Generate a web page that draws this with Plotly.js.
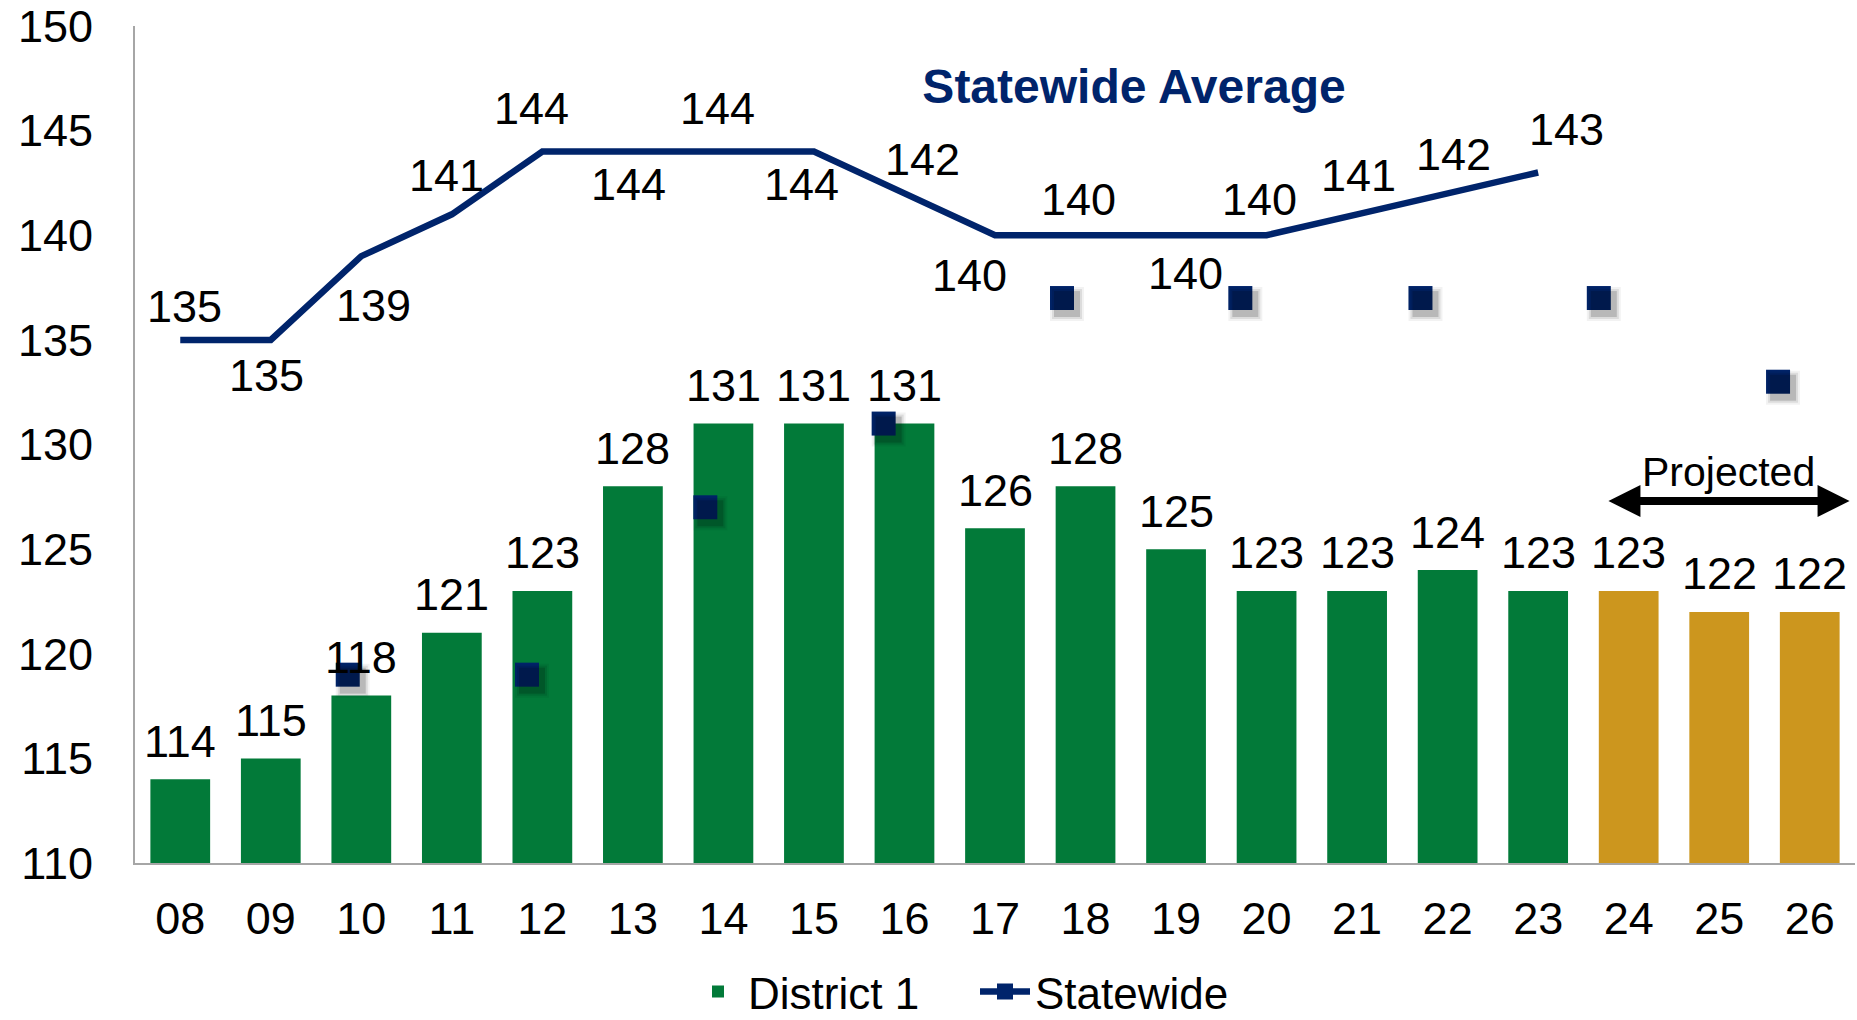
<!DOCTYPE html>
<html>
<head>
<meta charset="utf-8">
<script src="https://cdn.plot.ly/plotly-3.0.1.min.js"></script>
<style>
  html, body { margin: 0; padding: 0; background: #ffffff; }
  #chart { width: 1857px; height: 1020px; }
</style>
</head>
<body>
<div id="chart"></div>
<script>
// ---- data ----
var years = ['08','09','10','11','12','13','14','15','16','17','18','19','20','21','22','23','24','25','26'];
var district1 = [114,115,118,121,123,128,131,131,131,126,128,125,123,123,124,123,123,122,122];
var projectedFrom = '24';   // years from here on are projected
var statewideYears = ['08','09','10','11','12','13','14','15','16','17','18','19','20','21','22','23'];
var statewide = [135,135,139,141,144,144,144,144,142,140,140,140,140,141,142,143];
// stray statewide markers as they appear in the picture (x in category-index units)
var markerX = [1.85,3.83,5.80,7.77,9.74,11.71,13.70,15.67,17.65];
var markerY = [119,119,127,131,137,137,137,137,133];

// ---- styles ----
var GREEN = '#027a39', GOLD = '#cc961e', NAVY = '#00246b';
var FONT = 'Liberation Sans, Arial, Helvetica, sans-serif';
// label offsets (px) for the statewide line labels [dx, dy(down)]
var lineLabelOffset = [[4,-33],[-4,36],[12,49],[-5,-39],[-11,-43],[-4,33],[-6,-43],[-12,33],
                       [18,-34],[-26,40],[-7,-36],[9,38],[-7,-36],[1,-39],[6,-39],[28,-43]];

var pIdx = years.indexOf(projectedFrom);
var barColors = years.map(function(y, i){ return i >= pIdx ? GOLD : GREEN; });

// soft drop shadow of the markers: same data, drawn on axes shifted a few px
var shadowLayers = [
  { size: 34, color: 'rgba(0,0,0,0.05)' },
  { size: 30, color: 'rgba(0,0,0,0.09)' },
  { size: 26, color: 'rgba(0,0,0,0.16)' }
];

var traces = [
  {
    type: 'bar', x: years, y: district1, name: 'District 1',
    marker: { color: barColors },
    width: 0.66, showlegend: true, hoverinfo: 'x+y'
  },
  {
    type: 'scatter', mode: 'lines', x: statewideYears, y: statewide, name: 'Statewide',
    line: { color: NAVY, width: 6.5 }, showlegend: false
  }
];
shadowLayers.forEach(function(s){
  traces.push({
    type: 'scatter', mode: 'markers', x: markerX, y: markerY, xaxis: 'x3', yaxis: 'y3',
    marker: { symbol: 'square', size: s.size, color: s.color }, showlegend: false, hoverinfo: 'skip'
  });
});
traces.push({
  type: 'scatter', mode: 'markers', x: markerX, y: markerY, xaxis: 'x2', name: 'Statewide',
  marker: { symbol: 'square', size: 24, color: NAVY }, showlegend: false
});
traces.push({
  type: 'scatter', mode: 'lines+markers', x: [null], y: [null], name: 'Statewide',
  line: { color: NAVY, width: 6.5 }, marker: { symbol: 'square', size: 16, color: NAVY },
  showlegend: true
});

var annotations = [];
years.forEach(function(y, i){
  annotations.push({
    x: years.indexOf(y), y: district1[i], xref: 'x', yref: 'y', text: String(district1[i]),
    showarrow: false, xanchor: 'center', yanchor: 'middle', yshift: 38,
    font: { family: FONT, size: 45, color: '#000000' }
  });
});
statewideYears.forEach(function(y, i){
  annotations.push({
    x: years.indexOf(y), y: statewide[i], xref: 'x', yref: 'y', text: String(statewide[i]),
    showarrow: false, xanchor: 'center', yanchor: 'middle',
    xshift: lineLabelOffset[i][0], yshift: -lineLabelOffset[i][1],
    font: { family: FONT, size: 45, color: '#000000' }
  });
});
// Projected label and double arrow
annotations.push({
  x: 17.1, y: 128.7, xref: 'x', yref: 'y', text: 'Projected', showarrow: false,
  xanchor: 'center', yanchor: 'middle',
  font: { family: FONT, size: 41, color: '#000000' }
});
annotations.push({
  x: 18.44, y: 127.3, xref: 'x', yref: 'y', ax: 15.76, ay: 127.3, axref: 'x', ayref: 'y',
  text: ' ', font: { size: 1 }, showarrow: true, arrowside: 'end+start',
  arrowhead: 2, startarrowhead: 2, arrowsize: 0.8, startarrowsize: 0.8,
  arrowwidth: 8, arrowcolor: '#000000', standoff: 0, startstandoff: 0
});

var XR = [-0.5, 18.5], YR = [110, 150];
var pxX = 1720 / 19, pxY = 837 / 40;          // px per unit on each axis
var shX = 5 / pxX, shY = 6 / pxY;             // shadow offset (right, down)

var layout = {
  width: 1857, height: 1020,
  paper_bgcolor: '#ffffff', plot_bgcolor: '#ffffff',
  margin: { l: 135, r: 2, t: 26, b: 157, pad: 0 },
  font: { family: FONT, color: '#000000' },
  title: {
    text: 'Statewide Average', xref: 'container', yref: 'container',
    x: 1134/1857, xanchor: 'center', y: 1 - 86/1020, yanchor: 'middle',
    font: { family: FONT, size: 48, color: NAVY, weight: 'bold' }
  },
  xaxis: {
    type: 'category', range: XR, showgrid: false, zeroline: false,
    showline: true, linecolor: '#a6a6a6', linewidth: 2, ticks: '',
    tickfont: { family: FONT, size: 45, color: '#000000' },
    ticklabelstandoff: 15, fixedrange: true
  },
  xaxis2: { type: 'linear', overlaying: 'x', range: XR, visible: false, fixedrange: true },
  xaxis3: { type: 'linear', overlaying: 'x', range: [XR[0] - shX, XR[1] - shX], visible: false, fixedrange: true },
  yaxis: {
    range: YR, dtick: 5, tick0: 110, showgrid: false, zeroline: false,
    showline: true, linecolor: '#a6a6a6', linewidth: 2, ticks: '',
    tickfont: { family: FONT, size: 45, color: '#000000' },
    ticklabelstandoff: 31, fixedrange: true
  },
  yaxis3: { type: 'linear', overlaying: 'y', range: [YR[0] + shY, YR[1] + shY], visible: false, fixedrange: true },
  showlegend: true,
  legend: {
    orientation: 'h', xref: 'container', yref: 'container',
    x: 688/1857, xanchor: 'left', y: 1 - 992/1020, yanchor: 'middle',
    font: { family: FONT, size: 44, color: '#000000' },
    itemwidth: 50, entrywidth: 222, tracegroupgap: 0, bgcolor: 'rgba(0,0,0,0)'
  },
  annotations: annotations,
  bargap: 0.34
};

Plotly.newPlot('chart', traces, layout, { displayModeBar: false, staticPlot: true });
</script>
</body>
</html>
